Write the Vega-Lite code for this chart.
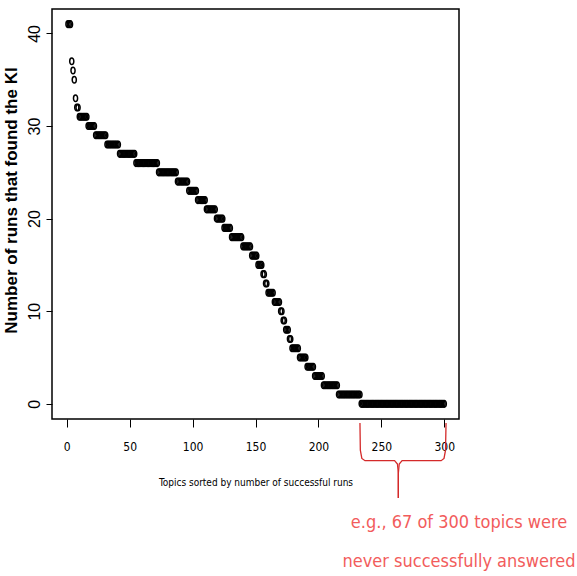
{
  "$schema": "https://vega.github.io/schema/vega-lite/v6.json",
  "width": 407,
  "height": 410,
  "autosize": {"type": "none"},
  "padding": {"left": 52, "top": 9, "right": 118, "bottom": 157},
  "background": "white",
  "config": {
    "view": {"stroke": "black", "strokeWidth": 1.5},
    "axis": {"grid": false, "domain": false, "tickColor": "black", "labelColor": "black", "titleColor": "black"}
  },
  "layer": [
    {
      "data": {"values": [
        {"topic":1,"runs":41},{"topic":2,"runs":41},{"topic":3,"runs":41},{"topic":4,"runs":37},{"topic":5,"runs":36},{"topic":6,"runs":35},{"topic":7,"runs":33},{"topic":8,"runs":32},{"topic":9,"runs":32},
        {"topic":10,"runs":31},{"topic":11,"runs":31},{"topic":12,"runs":31},{"topic":13,"runs":31},{"topic":14,"runs":31},{"topic":15,"runs":31},{"topic":16,"runs":31},
        {"topic":17,"runs":30},{"topic":18,"runs":30},{"topic":19,"runs":30},{"topic":20,"runs":30},{"topic":21,"runs":30},{"topic":22,"runs":30},
        {"topic":23,"runs":29},{"topic":24,"runs":29},{"topic":25,"runs":29},{"topic":26,"runs":29},{"topic":27,"runs":29},{"topic":28,"runs":29},{"topic":29,"runs":29},{"topic":30,"runs":29},{"topic":31,"runs":29},
        {"topic":32,"runs":28},{"topic":33,"runs":28},{"topic":34,"runs":28},{"topic":35,"runs":28},{"topic":36,"runs":28},{"topic":37,"runs":28},{"topic":38,"runs":28},{"topic":39,"runs":28},{"topic":40,"runs":28},{"topic":41,"runs":28},
        {"topic":42,"runs":27},{"topic":43,"runs":27},{"topic":44,"runs":27},{"topic":45,"runs":27},{"topic":46,"runs":27},{"topic":47,"runs":27},{"topic":48,"runs":27},{"topic":49,"runs":27},{"topic":50,"runs":27},{"topic":51,"runs":27},{"topic":52,"runs":27},{"topic":53,"runs":27},{"topic":54,"runs":27},
        {"topic":55,"runs":26},{"topic":56,"runs":26},{"topic":57,"runs":26},{"topic":58,"runs":26},{"topic":59,"runs":26},{"topic":60,"runs":26},{"topic":61,"runs":26},{"topic":62,"runs":26},{"topic":63,"runs":26},{"topic":64,"runs":26},{"topic":65,"runs":26},{"topic":66,"runs":26},{"topic":67,"runs":26},{"topic":68,"runs":26},{"topic":69,"runs":26},{"topic":70,"runs":26},{"topic":71,"runs":26},{"topic":72,"runs":26},
        {"topic":73,"runs":25},{"topic":74,"runs":25},{"topic":75,"runs":25},{"topic":76,"runs":25},{"topic":77,"runs":25},{"topic":78,"runs":25},{"topic":79,"runs":25},{"topic":80,"runs":25},{"topic":81,"runs":25},{"topic":82,"runs":25},{"topic":83,"runs":25},{"topic":84,"runs":25},{"topic":85,"runs":25},{"topic":86,"runs":25},{"topic":87,"runs":25},
        {"topic":88,"runs":24},{"topic":89,"runs":24},{"topic":90,"runs":24},{"topic":91,"runs":24},{"topic":92,"runs":24},{"topic":93,"runs":24},{"topic":94,"runs":24},{"topic":95,"runs":24},{"topic":96,"runs":24},
        {"topic":97,"runs":23},{"topic":98,"runs":23},{"topic":99,"runs":23},{"topic":100,"runs":23},{"topic":101,"runs":23},{"topic":102,"runs":23},{"topic":103,"runs":23},
        {"topic":104,"runs":22},{"topic":105,"runs":22},{"topic":106,"runs":22},{"topic":107,"runs":22},{"topic":108,"runs":22},{"topic":109,"runs":22},{"topic":110,"runs":22},
        {"topic":111,"runs":21},{"topic":112,"runs":21},{"topic":113,"runs":21},{"topic":114,"runs":21},{"topic":115,"runs":21},{"topic":116,"runs":21},{"topic":117,"runs":21},{"topic":118,"runs":21},
        {"topic":119,"runs":20},{"topic":120,"runs":20},{"topic":121,"runs":20},{"topic":122,"runs":20},{"topic":123,"runs":20},{"topic":124,"runs":20},
        {"topic":125,"runs":19},{"topic":126,"runs":19},{"topic":127,"runs":19},{"topic":128,"runs":19},{"topic":129,"runs":19},{"topic":130,"runs":19},
        {"topic":131,"runs":18},{"topic":132,"runs":18},{"topic":133,"runs":18},{"topic":134,"runs":18},{"topic":135,"runs":18},{"topic":136,"runs":18},{"topic":137,"runs":18},{"topic":138,"runs":18},{"topic":139,"runs":18},
        {"topic":140,"runs":17},{"topic":141,"runs":17},{"topic":142,"runs":17},{"topic":143,"runs":17},{"topic":144,"runs":17},{"topic":145,"runs":17},{"topic":146,"runs":17},
        {"topic":147,"runs":16},{"topic":148,"runs":16},{"topic":149,"runs":16},{"topic":150,"runs":16},{"topic":151,"runs":16},
        {"topic":152,"runs":15},{"topic":153,"runs":15},{"topic":154,"runs":15},{"topic":155,"runs":15},
        {"topic":156,"runs":14},{"topic":157,"runs":14},
        {"topic":158,"runs":13},{"topic":159,"runs":13},
        {"topic":160,"runs":12},{"topic":161,"runs":12},{"topic":162,"runs":12},{"topic":163,"runs":12},{"topic":164,"runs":12},
        {"topic":165,"runs":11},{"topic":166,"runs":11},{"topic":167,"runs":11},{"topic":168,"runs":11},{"topic":169,"runs":11},
        {"topic":170,"runs":10},{"topic":171,"runs":10},
        {"topic":172,"runs":9},{"topic":173,"runs":9},
        {"topic":174,"runs":8},{"topic":175,"runs":8},{"topic":176,"runs":8},
        {"topic":177,"runs":7},{"topic":178,"runs":7},
        {"topic":179,"runs":6},{"topic":180,"runs":6},{"topic":181,"runs":6},{"topic":182,"runs":6},{"topic":183,"runs":6},{"topic":184,"runs":6},
        {"topic":185,"runs":5},{"topic":186,"runs":5},{"topic":187,"runs":5},{"topic":188,"runs":5},{"topic":189,"runs":5},{"topic":190,"runs":5},
        {"topic":191,"runs":4},{"topic":192,"runs":4},{"topic":193,"runs":4},{"topic":194,"runs":4},{"topic":195,"runs":4},{"topic":196,"runs":4},
        {"topic":197,"runs":3},{"topic":198,"runs":3},{"topic":199,"runs":3},{"topic":200,"runs":3},{"topic":201,"runs":3},{"topic":202,"runs":3},{"topic":203,"runs":3},
        {"topic":204,"runs":2},{"topic":205,"runs":2},{"topic":206,"runs":2},{"topic":207,"runs":2},{"topic":208,"runs":2},{"topic":209,"runs":2},{"topic":210,"runs":2},{"topic":211,"runs":2},{"topic":212,"runs":2},{"topic":213,"runs":2},{"topic":214,"runs":2},{"topic":215,"runs":2},
        {"topic":216,"runs":1},{"topic":217,"runs":1},{"topic":218,"runs":1},{"topic":219,"runs":1},{"topic":220,"runs":1},{"topic":221,"runs":1},{"topic":222,"runs":1},{"topic":223,"runs":1},{"topic":224,"runs":1},{"topic":225,"runs":1},{"topic":226,"runs":1},{"topic":227,"runs":1},{"topic":228,"runs":1},{"topic":229,"runs":1},{"topic":230,"runs":1},{"topic":231,"runs":1},{"topic":232,"runs":1},{"topic":233,"runs":1},
        {"topic":234,"runs":0},{"topic":235,"runs":0},{"topic":236,"runs":0},{"topic":237,"runs":0},{"topic":238,"runs":0},{"topic":239,"runs":0},{"topic":240,"runs":0},{"topic":241,"runs":0},{"topic":242,"runs":0},{"topic":243,"runs":0},
        {"topic":244,"runs":0},{"topic":245,"runs":0},{"topic":246,"runs":0},{"topic":247,"runs":0},{"topic":248,"runs":0},{"topic":249,"runs":0},{"topic":250,"runs":0},{"topic":251,"runs":0},{"topic":252,"runs":0},{"topic":253,"runs":0},
        {"topic":254,"runs":0},{"topic":255,"runs":0},{"topic":256,"runs":0},{"topic":257,"runs":0},{"topic":258,"runs":0},{"topic":259,"runs":0},{"topic":260,"runs":0},{"topic":261,"runs":0},{"topic":262,"runs":0},{"topic":263,"runs":0},
        {"topic":264,"runs":0},{"topic":265,"runs":0},{"topic":266,"runs":0},{"topic":267,"runs":0},{"topic":268,"runs":0},{"topic":269,"runs":0},{"topic":270,"runs":0},{"topic":271,"runs":0},{"topic":272,"runs":0},{"topic":273,"runs":0},
        {"topic":274,"runs":0},{"topic":275,"runs":0},{"topic":276,"runs":0},{"topic":277,"runs":0},{"topic":278,"runs":0},{"topic":279,"runs":0},{"topic":280,"runs":0},{"topic":281,"runs":0},{"topic":282,"runs":0},{"topic":283,"runs":0},
        {"topic":284,"runs":0},{"topic":285,"runs":0},{"topic":286,"runs":0},{"topic":287,"runs":0},{"topic":288,"runs":0},{"topic":289,"runs":0},{"topic":290,"runs":0},{"topic":291,"runs":0},{"topic":292,"runs":0},{"topic":293,"runs":0},
        {"topic":294,"runs":0},{"topic":295,"runs":0},{"topic":296,"runs":0},{"topic":297,"runs":0},{"topic":298,"runs":0},{"topic":299,"runs":0},{"topic":300,"runs":0}
      ]},
      "mark": {"type": "point", "shape": "M0,-1C0.342,-1,0.62,-0.552,0.62,0C0.62,0.552,0.342,1,0,1C-0.342,1,-0.62,0.552,-0.62,0C-0.62,-0.552,-0.342,-1,0,-1Z", "filled": false, "stroke": "black", "strokeWidth": 1.5, "size": 44, "opacity": 1},
      "encoding": {
        "x": {
          "field": "topic", "type": "quantitative",
          "scale": {"domain": [-11.7, 311.7], "nice": false, "zero": false},
          "axis": {"values": [0, 50, 100, 150, 200, 250, 300], "title": "Topics sorted by number of successful runs", "tickSize": 8, "tickWidth": 1, "labelFont": "DejaVu Sans Condensed, Liberation Sans, sans-serif", "labelFontSize": 12, "labelPadding": 14, "labelFlush": false, "labelOverlap": false, "titleFont": "DejaVu Sans Condensed, Liberation Sans, sans-serif", "titleFontSize": 10, "titleFontWeight": "normal", "titlePadding": 25}
        },
        "y": {
          "field": "runs", "type": "quantitative",
          "scale": {"domain": [-1.64, 42.64], "nice": false, "zero": false},
          "axis": {"values": [0, 10, 20, 30, 40], "title": "Number of runs that found the KI", "tickSize": 6, "tickWidth": 1, "labelAngle": -90, "labelAlign": "center", "labelBaseline": "alphabetic", "labelPadding": 7, "labelFont": "Liberation Sans", "labelFontSize": 16, "titleFont": "Liberation Sans", "titleFontSize": 17, "titleFontWeight": "bold", "titlePadding": 6, "titleY": 191}
        }
      }
    },
    {
      "data": {"values": [
        {"side": "left", "ord": 1, "topic": 233.0, "runs": -2.07},
        {"side": "left", "ord": 2, "topic": 233.3, "runs": -5.0},
        {"side": "left", "ord": 3, "topic": 234.5, "runs": -5.9},
        {"side": "left", "ord": 4, "topic": 237.0, "runs": -6.14},
        {"side": "left", "ord": 5, "topic": 260.5, "runs": -6.14},
        {"side": "left", "ord": 6, "topic": 262.8, "runs": -6.5},
        {"side": "left", "ord": 7, "topic": 263.5, "runs": -7.5},
        {"side": "left", "ord": 8, "topic": 263.5, "runs": -10.17},
        {"side": "right", "ord": 1, "topic": 301.4, "runs": -2.07},
        {"side": "right", "ord": 2, "topic": 301.0, "runs": -5.0},
        {"side": "right", "ord": 3, "topic": 299.8, "runs": -5.9},
        {"side": "right", "ord": 4, "topic": 297.5, "runs": -6.14},
        {"side": "right", "ord": 5, "topic": 266.5, "runs": -6.14},
        {"side": "right", "ord": 6, "topic": 264.2, "runs": -6.5},
        {"side": "right", "ord": 7, "topic": 263.5, "runs": -7.5},
        {"side": "right", "ord": 8, "topic": 263.5, "runs": -10.17}
      ]},
      "mark": {"type": "line", "color": "#d42a2a", "strokeWidth": 1.3, "clip": false},
      "encoding": {
        "x": {"field": "topic", "type": "quantitative", "scale": {"domain": [-11.7, 311.7], "nice": false, "zero": false}},
        "y": {"field": "runs", "type": "quantitative", "scale": {"domain": [-1.64, 42.64], "nice": false, "zero": false}},
        "detail": {"field": "side"},
        "order": {"field": "ord", "type": "quantitative"}
      }
    },
    {
      "data": {"values": [{"note": "e.g., 67 of 300 topics were"}]},
      "mark": {"type": "text", "font": "DejaVu Sans Condensed, Liberation Sans, sans-serif", "fontSize": 18, "fill": "#f25c5c", "align": "center", "baseline": "middle", "clip": false},
      "encoding": {
        "x": {"datum": 311.7, "type": "quantitative", "scale": {"domain": [-11.7, 311.7], "nice": false, "zero": false}},
        "y": {"datum": -12.87, "type": "quantitative", "scale": {"domain": [-1.64, 42.64], "nice": false, "zero": false}},
        "text": {"field": "note"}
      }
    },
    {
      "data": {"values": [{"note": "never successfully answered"}]},
      "mark": {"type": "text", "font": "DejaVu Sans Condensed, Liberation Sans, sans-serif", "fontSize": 18, "fill": "#f25c5c", "align": "center", "baseline": "middle", "clip": false},
      "encoding": {
        "x": {"datum": 311.7, "type": "quantitative", "scale": {"domain": [-11.7, 311.7], "nice": false, "zero": false}},
        "y": {"datum": -17.08, "type": "quantitative", "scale": {"domain": [-1.64, 42.64], "nice": false, "zero": false}},
        "text": {"field": "note"}
      }
    }
  ]
}
